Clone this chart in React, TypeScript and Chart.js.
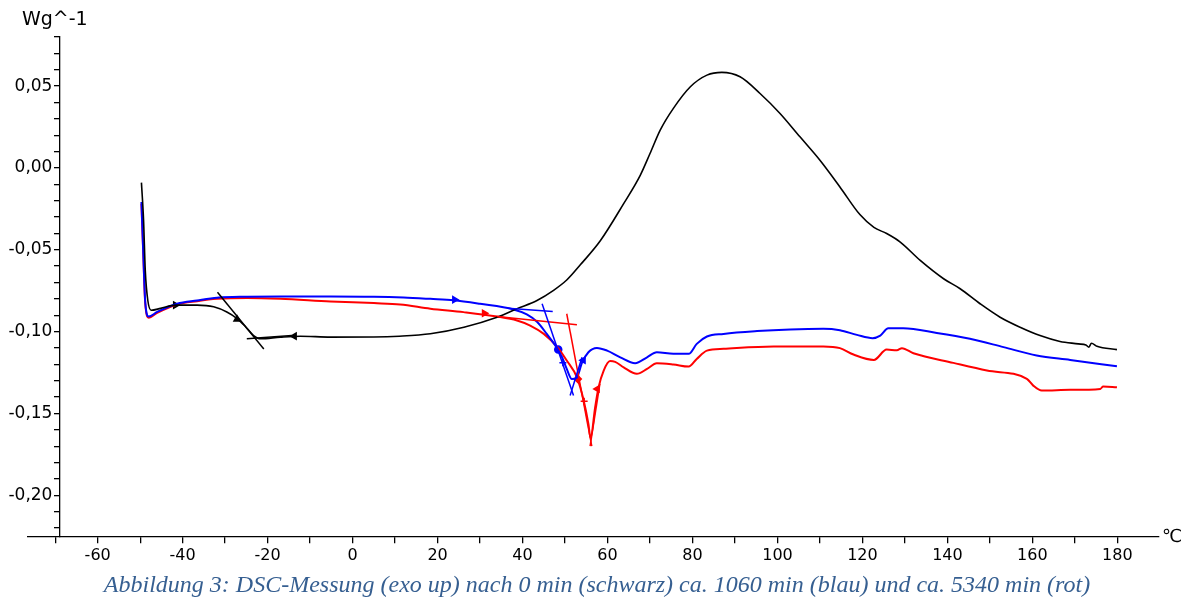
import React, { useEffect, useRef } from "react";
import { Chart, registerables } from "chart.js";

Chart.register(...registerables);

// ---------- axis definition ----------
const X_MIN = -76.4;
const X_MAX = 189.8;
const Y_MIN = -0.2255;
const Y_MAX = 0.08;
const Y_AXIS_AT_X = -69;

const X_TICKS = [-70, -60, -50, -40, -30, -20, -10, 0, 10, 20, 30, 40, 50, 60, 70, 80, 90, 100, 110, 120, 130, 140, 150, 160, 170, 180];
const X_LABELS = [-60, -40, -20, 0, 20, 40, 60, 80, 100, 120, 140, 160, 180];
const Y_TICKS = [-0.22, -0.21, -0.2, -0.19, -0.18, -0.17, -0.16, -0.15, -0.14, -0.13, -0.12, -0.11, -0.1, -0.09, -0.08, -0.07, -0.06, -0.05, -0.04, -0.03, -0.02, -0.01, 0, 0.01, 0.02, 0.03, 0.04, 0.05, 0.06, 0.07, 0.08];
const Y_LABELS = [-0.2, -0.15, -0.1, -0.05, 0, 0.05];

const Y_UNIT = "Wg^-1";
const X_UNIT = "\u2103";
const CAPTION = "Abbildung 3: DSC-Messung (exo up) nach 0 min (schwarz) ca. 1060 min (blau) und ca. 5340 min (rot)";

// ---------- series: black (0 min) ----------
const BLACK_T = [-49.7, -49.2, -48.8, -48.2, -47.4, -45.2, -41.7, -36.6, -32.7, -29.6, -27.2, -25.2, -23.3, -21.7, -17.0, -12.3, -5.2, 5, 11, 18.3, 26.2, 34, 38.7, 43.4, 47.3, 50.4, 53.6, 58.3, 63.8, 67.7, 70, 72.4, 75.5, 79.5, 83.4, 86.9, 91.2, 95.9, 100.6, 105.3, 110, 114.7, 119.4, 122.7, 125.7, 128.9, 133.6, 139.1, 143, 147.7, 152.4, 157.1, 161.8, 166.5, 170.8, 172.6, 173.3, 173.9, 175.2, 179.9];
const BLACK_W = [-0.009, -0.032, -0.0626, -0.081, -0.087, -0.0858, -0.0838, -0.0838, -0.0848, -0.088, -0.092, -0.097, -0.1024, -0.1044, -0.1034, -0.1028, -0.1034, -0.1033, -0.1028, -0.1013, -0.0973, -0.0912, -0.086, -0.081, -0.0748, -0.0685, -0.0592, -0.0445, -0.0218, -0.0045, 0.0088, 0.0231, 0.0364, 0.0496, 0.0567, 0.0584, 0.0557, 0.0455, 0.0333, 0.019, 0.0047, -0.0116, -0.0285, -0.0363, -0.0401, -0.0453, -0.0565, -0.0677, -0.0738, -0.083, -0.0912, -0.0973, -0.1024, -0.106, -0.1075, -0.1082, -0.1095, -0.1071, -0.109, -0.111];

// ---------- series: blue (ca. 1060 min) ----------
const BLUE_T = [-49.7, -49.3, -48.8, -48.0, -46.0, -41.3, -36.6, -31.9, -24.8, -17, -5.2, 5, 12, 18.3, 23.8, 30, 37.9, 41, 43.4, 45.7, 47.7, 49.3, 50.4, 51.6, 52.8, 54, 55.5, 57.5, 59.9, 63, 66.5, 69.3, 71.6, 75.5, 79.1, 81, 83.4, 87.3, 95.2, 103, 110.8, 114.7, 118.7, 122.4, 124.2, 126.1, 129.6, 137.5, 145.3, 153.2, 161, 168.9, 179.9];
const BLUE_W = [-0.0208, -0.05, -0.082, -0.0908, -0.088, -0.083, -0.081, -0.0793, -0.0787, -0.0785, -0.0785, -0.0787, -0.0792, -0.08, -0.0808, -0.083, -0.0865, -0.0895, -0.094, -0.1014, -0.1085, -0.1157, -0.1228, -0.129, -0.128, -0.119, -0.1126, -0.11, -0.1116, -0.1157, -0.1193, -0.1157, -0.1126, -0.1136, -0.1136, -0.1075, -0.103, -0.1014, -0.0997, -0.0987, -0.0983, -0.0992, -0.102, -0.104, -0.1024, -0.098, -0.098, -0.1008, -0.1044, -0.1095, -0.1146, -0.1173, -0.1212];

// ---------- series: red (ca. 5340 min) ----------
const RED_T = [-49.7, -49.3, -48.8, -48.0, -46.0, -41.3, -36.6, -31.9, -24.8, -17, -5.2, 5, 11.2, 18.3, 26.1, 34, 38.7, 41.8, 45, 48.2, 50.4, 52.8, 54.4, 55.5, 56.0, 57.1, 57.9, 59.1, 60.6, 61.8, 63.8, 66.9, 69.3, 71.6, 75.5, 79.1, 81, 83.4, 87.3, 99.1, 110.8, 114.7, 117.9, 122.7, 125.7, 128.1, 129.3, 132, 141.4, 149.3, 158.7, 160.2, 162.2, 168.9, 176, 176.6, 179.9];
const RED_W = [-0.0218, -0.05, -0.083, -0.0915, -0.0885, -0.0834, -0.0814, -0.08, -0.0795, -0.08, -0.0816, -0.0826, -0.0834, -0.086, -0.0881, -0.0908, -0.0932, -0.0963, -0.1014, -0.1095, -0.1177, -0.128, -0.1422, -0.1564, -0.165, -0.146, -0.134, -0.1238, -0.118, -0.1185, -0.1218, -0.1258, -0.1228, -0.1193, -0.1201, -0.1214, -0.1167, -0.1116, -0.1105, -0.1091, -0.1091, -0.1101, -0.114, -0.1173, -0.111, -0.1114, -0.1101, -0.1132, -0.1191, -0.1238, -0.1289, -0.133, -0.136, -0.1356, -0.135, -0.1336, -0.134];

// ---------- evaluation tangents (start/end pairs) ----------
const BLACK_TAN_T = [[-31.8, -20.9], [-24.9, -14.3]];
const BLACK_TAN_W = [[-0.0759, -0.1106], [-0.1044, -0.1024]];
const BLUE_TAN_T = [[36.5, 47.1], [44.6, 52], [54, 51.2]];
const BLUE_TAN_W = [[-0.0858, -0.0877], [-0.083, -0.139], [-0.1157, -0.139]];
const RED_TAN_T = [[34, 52.8], [50.4, 56.3], [55.9, 58.2]];
const RED_TAN_W = [[-0.0908, -0.0958], [-0.0891, -0.17], [-0.17, -0.132]];

// ---------- evaluation markers ----------
const BLACK_MARK_T = [-41.7, -27.2, -13.7];
const BLACK_MARK_W = [-0.0838, -0.0925, -0.1028];
const BLACK_MARK_STYLE = ["triangle", "triangle", "triangle"];
const BLACK_MARK_ROT = [90, 0, 270];
const BLUE_MARK_T = [24, 48.4, 49.5, 54.3];
const BLUE_MARK_W = [-0.0805, -0.111, -0.119, -0.1175];
const BLUE_MARK_STYLE = ["triangle", "circle", "cross", "triangle"];
const BLUE_MARK_ROT = [90, 0, 0, 30];
const RED_MARK_T = [31, 53, 54.5, 57.6];
const RED_MARK_W = [-0.0888, -0.129, -0.1425, -0.135];
const RED_MARK_STYLE = ["triangle", "rectRot", "cross", "triangle"];
const RED_MARK_ROT = [90, 0, 0, 30];

const toPts = (t: number[], w: number[]) => t.map((x, i) => ({ x, y: w[i] }));

function curve(label: string, t: number[], w: number[], color: string, width: number) {
  return {
    label,
    data: toPts(t, w),
    borderColor: color,
    backgroundColor: color,
    borderWidth: width,
    showLine: true,
    pointRadius: 0,
    cubicInterpolationMode: "monotone" as const,
  };
}

function tangents(t: number[][], w: number[][], color: string) {
  return t.map((pair, i) => ({
    label: "tangent",
    data: toPts(pair, w[i]),
    borderColor: color,
    backgroundColor: color,
    borderWidth: 1.5,
    showLine: true,
    pointRadius: 0,
  }));
}

function markers(t: number[], w: number[], styles: string[], rot: number[], color: string) {
  return {
    label: "marker",
    data: toPts(t, w),
    borderColor: color,
    backgroundColor: color,
    showLine: false,
    pointStyle: styles,
    rotation: rot,
    pointRadius: 3.5,
    borderWidth: 1.5,
  };
}

const fmtY = (v: number) => (Math.abs(v) < 1e-9 ? "0,00" : v.toFixed(2).replace(".", ","));

// y axis sits at a data position; Chart.js then right-aligns its labels on the
// axis line itself, so move them left by tick length + gap.
const Y_LABEL_GAP = 7;
const labelShiftPlugin = {
  id: "labelShift",
  afterUpdate(chart: any) {
    const s = chart.scales.y;
    s._labelItems = null;
    const items = s.getLabelItems(chart.chartArea);
    items.forEach((it: any) => {
      it.options.translation = [it.options.translation[0] - Y_LABEL_GAP, it.options.translation[1]];
    });
  },
};

const unitPlugin = {
  id: "units",
  afterDraw(chart: any) {
    const ctx = chart.ctx;
    ctx.save();
    ctx.fillStyle = "#000";
    ctx.font = '19px "DejaVu Sans"';
    ctx.textAlign = "left";
    ctx.textBaseline = "alphabetic";
    ctx.fillText(Y_UNIT, 22, 25);
    ctx.font = '18px "DejaVu Sans"';
    ctx.textBaseline = "middle";
    ctx.fillText(X_UNIT, chart.chartArea.right + 3, chart.scales.y.getPixelForValue(Y_MIN));
    ctx.restore();
  },
};

export default function App() {
  const ref = useRef<HTMLCanvasElement | null>(null);

  useEffect(() => {
    if (!ref.current) return;
    const chart = new Chart(ref.current, {
      type: "scatter",
      data: {
        datasets: [
          ...tangents(BLACK_TAN_T, BLACK_TAN_W, "#000000"),
          ...tangents(BLUE_TAN_T, BLUE_TAN_W, "#0000ff"),
          ...tangents(RED_TAN_T, RED_TAN_W, "#ff0000"),
          curve("0 min", BLACK_T, BLACK_W, "#000000", 1.6),
          curve("1060 min", BLUE_T, BLUE_W, "#0000ff", 2),
          curve("5340 min", RED_T, RED_W, "#ff0000", 2),
          markers(BLACK_MARK_T, BLACK_MARK_W, BLACK_MARK_STYLE, BLACK_MARK_ROT, "#000000"),
          markers(BLUE_MARK_T, BLUE_MARK_W, BLUE_MARK_STYLE, BLUE_MARK_ROT, "#0000ff"),
          markers(RED_MARK_T, RED_MARK_W, RED_MARK_STYLE, RED_MARK_ROT, "#ff0000"),
        ] as any,
      },
      options: {
        animation: false,
        responsive: false,
        devicePixelRatio: 1,
        events: [],
        layout: { padding: { left: 28, right: 35, top: 37, bottom: 64 } },
        plugins: { legend: { display: false }, tooltip: { enabled: false }, title: { display: false } },
        scales: {
          x: {
            type: "linear",
            min: X_MIN,
            max: X_MAX,
            position: { y: Y_MIN } as any,
            afterBuildTicks: (s: any) => { s.ticks = X_TICKS.map((v) => ({ value: v })); },
            ticks: {
              autoSkip: false,
              maxRotation: 0,
              padding: 3,
              color: "#000",
              font: { family: "DejaVu Sans", size: 16 },
              callback: (v: any) => (X_LABELS.includes(Number(v)) ? String(v) : ""),
            },
            grid: { drawOnChartArea: false, drawTicks: true, tickLength: 6, color: "#000", tickColor: "#000", lineWidth: 1.3 },
            border: { display: true, color: "#000", width: 1.3 },
          },
          y: {
            type: "linear",
            min: Y_MIN,
            max: Y_MAX,
            position: { x: Y_AXIS_AT_X } as any,
            afterBuildTicks: (s: any) => { s.ticks = Y_TICKS.map((v) => ({ value: v })); },
            ticks: {
              autoSkip: false,
              padding: 3,
              color: "#000",
              font: { family: "DejaVu Sans", size: 17 },
              callback: (v: any) => (Y_LABELS.some((l) => Math.abs(l - Number(v)) < 1e-6) ? fmtY(Number(v)) : ""),
            },
            grid: { drawOnChartArea: false, drawTicks: true, tickLength: 5, color: "#000", tickColor: "#000", lineWidth: 1.3 },
            border: { display: true, color: "#000", width: 1.3 },
          },
        },
      },
      plugins: [labelShiftPlugin, unitPlugin],
    });
    return () => chart.destroy();
  }, []);

  return (
    <div style={{ position: "fixed", left: 0, top: 0, width: 1194, height: 601, background: "#fff", overflow: "hidden" }}>
      <canvas ref={ref} width={1194} height={601} style={{ display: "block", width: 1194, height: 601 }} />
      <div
        style={{
          position: "absolute",
          left: 0,
          width: 1194,
          top: 570,
          textAlign: "center",
          fontFamily: '"Liberation Serif", serif',
          fontStyle: "italic",
          fontSize: 24,
          lineHeight: "28px",
          color: "#365F91",
          whiteSpace: "nowrap",
        }}
      >
        {CAPTION}
      </div>
    </div>
  );
}
